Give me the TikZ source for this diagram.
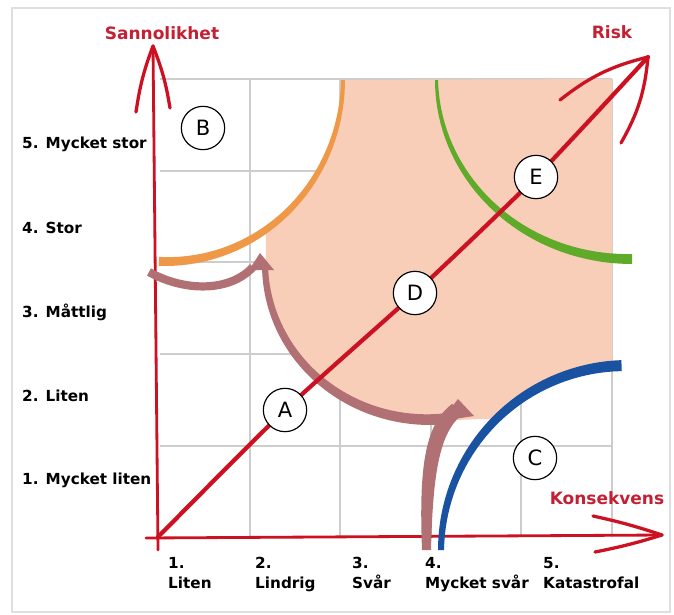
\documentclass[tikz,border=0pt]{standalone}
\usepackage{fontspec}
\setmainfont{DejaVu Sans}

\definecolor{axred}{RGB}{204,18,34}
\definecolor{lblred}{RGB}{196,32,52}
\definecolor{gridgray}{RGB}{205,205,205}
\definecolor{pinkfill}{RGB}{248,206,184}
\definecolor{orangeband}{RGB}{238,152,72}
\definecolor{mauveband}{RGB}{176,112,116}
\definecolor{greenband}{RGB}{96,170,42}
\definecolor{blueband}{RGB}{24,82,160}

\newcommand{\arcband}[9]{%
  \fill[#1] plot[domain=#6:#7,samples=40] ({#2+#4*cos(\x)},{#3+#5*sin(\x)})
    -- plot[domain=#7:#6,samples=40] ({#2+(#4-#8-(#9-#8)*(\x-#6)/(#7-#6))*cos(\x)},{#3+(#5-#8-(#9-#8)*(\x-#6)/(#7-#6))*sin(\x)}) -- cycle;}

\begin{document}
\begin{tikzpicture}[
  x=0.03cm, y=-0.03cm,
  gridline/.style={draw=gridgray,line width=1.2pt},
  axisline/.style={draw=axred,line width=2.4pt,line cap=round},
  barb/.style={draw=axred,line width=2.8pt,line cap=round},
  riskline/.style={draw=axred,line width=3.6pt,line cap=round},
  mauveline/.style={draw=mauveband,line width=7pt},
  zone/.style={circle,draw,line width=1pt,fill=white,minimum size=37pt,inner sep=0pt,font=\fontsize{18}{18}\selectfont},
  axislabel/.style={text=lblred,font=\fontsize{14.5}{15}\selectfont\bfseries,inner sep=0pt},
  problabel/.style={anchor=west,font=\fontsize{13}{15}\selectfont\bfseries,inner sep=0pt},
  conslabel/.style={anchor=north west,align=left,font=\fontsize{13}{17}\selectfont\bfseries,inner sep=0pt}
]
  \useasboundingbox (0,0) rectangle (674,614);
  \draw[gray!25,line width=1.2pt] (12,8) rectangle (670,612);

  \foreach \gx in {250,340,431,521,612} \draw[gridline] (\gx,79) -- (\gx,537);
  \foreach \gy in {79,171,262,354,446} \draw[gridline] (160,\gy) -- (612,\gy);

  \fill[pinkfill] plot[domain=55:0,samples=30] ({165+176*cos(\x)},{80+182*sin(\x)}) -- (612,79) -- (612,362)
    -- plot[domain=266:225,samples=30] ({628+186*cos(\x)},{550+186*sin(\x)})
    -- plot[domain=85:180,samples=30] ({430+164*cos(\x)},{265+156*sin(\x)}) -- cycle;

  \coordinate (o) at (158,537);
  \coordinate (ytip) at (153,46);
  \coordinate (xtip) at (662,535);
  \coordinate (rtip) at (648,57);
  \draw[axisline] (158,550) -- (ytip);
  \draw[axisline] (146,538) -- (xtip);
  \draw[barb] (ytip) to[bend right=6] (136,112);
  \draw[barb] (ytip) to[bend left=6] (170,108);
  \draw[barb] (xtip) to[bend right=3] (593,516);
  \draw[barb] (xtip) to[bend left=3] (595,552);

  \arcband{orangeband}{165}{80}{180}{186}{92}{0}{9}{4}
  \arcband{greenband}{632}{80}{197}{184}{180}{90}{3}{10}
  \arcband{blueband}{628}{550}{190}{190}{180}{268}{6}{11}
  \arcband{mauveband}{430}{265}{168}{160}{180}{85}{6}{11}
  \draw[mauveline] (149,272) .. controls (185,292) and (230,292) .. (253,267);
  \fill[mauveband] (422,550) .. controls (419,470) and (424,425) .. (452,404) -- (466,412) .. controls (440,428) and (433,470) .. (431,550) -- cycle;
  \fill[mauveband] (260,253) -- (249,270) -- (274,270) -- cycle;
  \fill[mauveband] (458,399) -- (441,421) -- (474,416) -- cycle;

  \coordinate (pa) at (285,410);
  \coordinate (pd) at (415,293);
  \coordinate (pe) at (536,177);
  \draw[riskline] plot[smooth,tension=0.4] coordinates {(o) (pa) (pd) (pe) (rtip)};
  \draw[barb] (rtip) to[bend right=12] (560,100);
  \draw[barb] (rtip) to[bend left=12] (621,143);

  \node (b) [zone] at (203,128) {B};
  \node (a) [zone] at (pa) {A};
  \node (d) [zone] at (pd) {D};
  \node (e) [zone] at (pe) {E};
  \node (c) [zone] at (535,458) {C};

  \node (sannolikhet) [axislabel] at (162,33) {Sannolikhet};
  \node (risk) [axislabel] at (612,32) {Risk};
  \node (konsekvens) [axislabel] at (607,498) {Konsekvens};

  \node (p5) [problabel] at (22,144) {5. Mycket stor};
  \node (p4) [problabel] at (22,228) {4. Stor};
  \node (p3) [problabel] at (22,312) {3. Måttlig};
  \node (p2) [problabel] at (22,396) {2. Liten};
  \node (p1) [problabel] at (22,480) {1. Mycket liten};

  \node (k1) [conslabel] at (168,557) {1.\\Liten};
  \node (k2) [conslabel] at (255,557) {2.\\Lindrig};
  \node (k3) [conslabel] at (352,557) {3.\\Svår};
  \node (k4) [conslabel] at (425,557) {4.\\Mycket svår};
  \node (k5) [conslabel] at (543,557) {5.\\Katastrofal};
\end{tikzpicture}
\end{document}
